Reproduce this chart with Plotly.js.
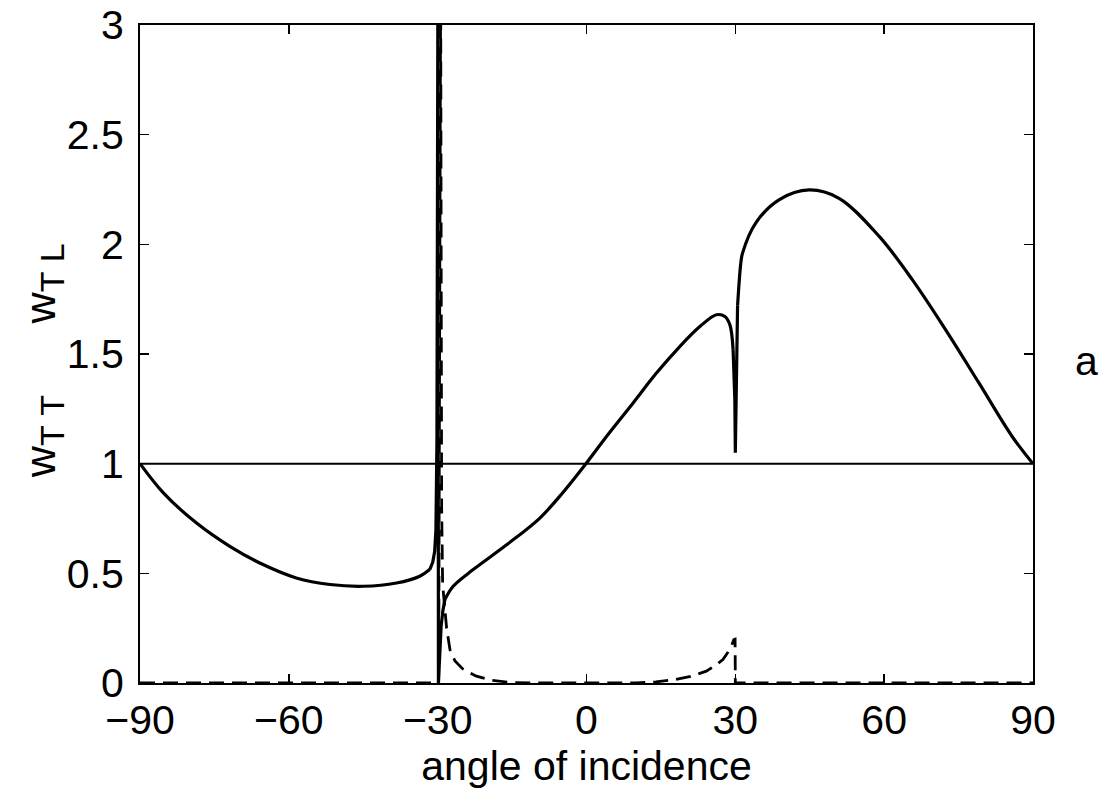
<!DOCTYPE html>
<html>
<head>
<meta charset="utf-8">
<script src="https://cdn.plot.ly/plotly-3.0.1.min.js"></script>
<style>
  html, body { margin: 0; padding: 0; background: #fff; }
  #plot { width: 1113px; height: 790px; }
</style>
</head>
<body>
<div id="plot"></div>
<script>
// solid curve, split where it turns sharply
var angleSolidA = [-90, -85.3, -78.6, -71.9, -65.2, -58.5, -51.7, -45, -38.3, -33.6, -31.6];
var wSolidA = [1.0, 0.867, 0.729, 0.623, 0.54, 0.479, 0.449, 0.441, 0.456, 0.487, 0.517];

var angleSolidB = [-31.6, -31.0, -30.6, -30.35, -30.15, -29.95, -29.85, -29.6, -29.3, -28.95, -28.55];
var wSolidB = [0.517, 0.55, 0.6, 0.7, 1.1, 3.2, 0, 0.16, 0.26, 0.33, 0.38];

var angleSolidC = [-28.55, -26.87, -22.84, -16.1, -9.4, -4.7, 0, 4.03, 9.4, 14.1, 18.8, 22.85, 26.2, 27.9, 28.9, 29.55];
var wSolidC = [0.38, 0.441, 0.517, 0.63, 0.752, 0.87, 1.003, 1.124, 1.277, 1.413, 1.534, 1.625, 1.679, 1.671, 1.633, 1.519];

var angleSolidD = [29.55, 29.9, 30.0, 30.15, 30.45];
var wSolidD = [1.519, 1.292, 1.05, 1.35, 1.72];

var angleSolidE = [30.45, 31.1, 31.45, 34.1, 38.8, 44.9, 50.9, 59, 65.7, 72.4, 79.1, 85.8, 90];
var wSolidE = [1.72, 1.914, 1.96, 2.097, 2.203, 2.248, 2.21, 2.036, 1.838, 1.61, 1.368, 1.124, 1.0];

// dashed curve
var angleDashed = [-90, -29.8, -29.4, -29.2, -29.0, -28.7, -28.2, -27.5, -26.5, -25, -22.2, -19, -15, -10, 10, 14, 18, 21, 24.15, 26, 27.5, 28.5, 29.2, 29.7, 29.95, 30.0, 90];
var wDashed = [0, 0, 3.2, 0.8, 0.45, 0.36, 0.25, 0.15, 0.1, 0.065, 0.031, 0.012, 0.002, 0, 0, 0.005, 0.016, 0.03, 0.054, 0.08, 0.107, 0.14, 0.168, 0.198, 0.2, 0, 0];

// reference level
var angleRef = [-90, 90];
var wRef = [1, 1];

var xTicks = [-90, -60, -30, 0, 30, 60, 90];
var yTicks = [0, 0.5, 1, 1.5, 2, 2.5, 3];

var solidLine = {color: '#000', width: 3.2};
var smoothLine = {color: '#000', width: 3.2, shape: 'spline', smoothing: 1};

var traces = [
  {x: angleRef, y: wRef, mode: 'lines', line: {color: '#000', width: 2}},
  {x: angleDashed, y: wDashed, mode: 'lines', line: {color: '#000', width: 2.8, dash: '15px,8px'}},
  {x: angleSolidA, y: wSolidA, mode: 'lines', line: smoothLine},
  {x: angleSolidB, y: wSolidB, mode: 'lines', line: solidLine},
  {x: angleSolidC, y: wSolidC, mode: 'lines', line: smoothLine},
  {x: angleSolidD, y: wSolidD, mode: 'lines', line: solidLine},
  {x: angleSolidE, y: wSolidE, mode: 'lines', line: smoothLine}
];

var axisStyle = {
  showgrid: false, zeroline: false,
  showline: true, linecolor: '#000', linewidth: 2, mirror: 'ticks',
  ticks: 'inside', ticklen: 9, tickwidth: 1.5, tickcolor: '#000',
  tickfont: {family: 'Liberation Sans, Arial, sans-serif', size: 41, color: '#000'}
};

var layout = {
  width: 1113, height: 790,
  margin: {l: 140, r: 80, t: 25, b: 107},
  paper_bgcolor: '#fff', plot_bgcolor: '#fff',
  showlegend: false,
  font: {family: 'Liberation Sans, Arial, sans-serif', size: 41, color: '#000'},
  xaxis: Object.assign({}, axisStyle, {
    range: [-90, 90], tickvals: xTicks,
    title: {text: 'angle of incidence', standoff: 0, font: {size: 41}}
  }),
  yaxis: Object.assign({}, axisStyle, {
    range: [0, 3], tickvals: yTicks, ticktext: ['0', '0.5', '1', '1.5', '2', '2.5', '3'],
    ticklabelstandoff: 6
  }),
  annotations: [
    {xref: 'paper', yref: 'paper', x: -0.108, y: 0.49, textangle: -90, showarrow: false,
     xanchor: 'center', yanchor: 'middle',
     text: 'w<sub><span style="font-size:34px">T\u00a0T</span></sub>\u00a0\u00a0\u00a0\u00a0\u00a0\u00a0w<sub><span style="font-size:34px">T\u00a0L</span></sub>',
     font: {size: 43}},
    {xref: 'paper', yref: 'paper', x: 1.06, y: 0.49, showarrow: false,
     xanchor: 'center', yanchor: 'middle', text: 'a', font: {size: 41}}
  ]
};

Plotly.newPlot('plot', traces, layout, {staticPlot: true});
</script>
</body>
</html>
